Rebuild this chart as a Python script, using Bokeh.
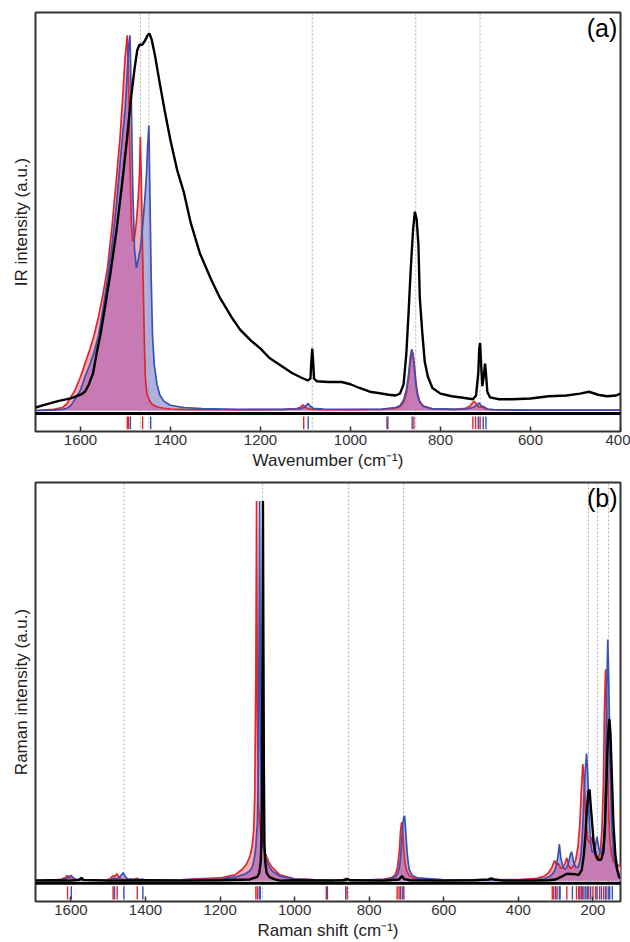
import numpy as np
from bokeh.plotting import figure
from bokeh.models import Range1d, FixedTicker, Span, Label
from bokeh.layouts import column
from bokeh.embed import file_html
from bokeh.resources import INLINE

# ---------------- Panel (a): IR ----------------
ir_calc_x = [1700, 1660, 1640, 1630, 1622, 1612, 1600, 1590, 1580, 1570,
             1560, 1550, 1540, 1530, 1520, 1512, 1506, 1501, 1496, 1493,
             1490, 1487, 1484, 1480, 1476, 1472, 1469, 1467, 1465, 1462,
             1460, 1458, 1456, 1453, 1451, 1448, 1446, 1443, 1440, 1436,
             1430, 1424, 1415, 1400, 1370, 1330, 1250, 1150, 1120, 1112,
             1106, 1102, 1097, 1094, 1090, 1083, 1060, 1000, 930, 900,
             890, 882, 876, 871, 867, 864, 861, 858, 855, 851,
             846, 838, 820, 770, 745, 735, 729, 725, 721, 717,
             714, 711, 708, 705, 701, 696, 680, 600, 400]
ir_red = [0.000, 0.003, 0.008, 0.018, 0.035, 0.055, 0.090, 0.125, 0.160, 0.200,
          0.250, 0.310, 0.380, 0.490, 0.620, 0.730, 0.840, 0.940, 1.000, 0.880,
          0.660, 0.500, 0.450, 0.460, 0.500, 0.560, 0.630, 0.730, 0.620, 0.420,
          0.300, 0.180, 0.090, 0.050, 0.040, 0.030, 0.025, 0.020, 0.016, 0.013,
          0.010, 0.008, 0.006, 0.004, 0.003, 0.002, 0.002, 0.003, 0.005, 0.008,
          0.015, 0.011, 0.006, 0.005, 0.004, 0.003, 0.002, 0.002, 0.003, 0.006,
          0.010, 0.022, 0.045, 0.085, 0.130, 0.150, 0.152, 0.120, 0.080, 0.045,
          0.024, 0.012, 0.005, 0.003, 0.006, 0.011, 0.020, 0.025, 0.018, 0.011,
          0.009, 0.009, 0.010, 0.008, 0.005, 0.003, 0.002, 0.001, 0.001]
ir_blue = [0.000, 0.001, 0.003, 0.006, 0.013, 0.030, 0.055, 0.090, 0.120, 0.155,
           0.200, 0.270, 0.350, 0.440, 0.550, 0.660, 0.740, 0.800, 0.900, 0.970,
           1.000, 0.820, 0.600, 0.430, 0.380, 0.400, 0.420, 0.430, 0.450, 0.490,
           0.520, 0.550, 0.580, 0.640, 0.700, 0.760, 0.600, 0.360, 0.200, 0.120,
           0.070, 0.042, 0.025, 0.014, 0.008, 0.005, 0.003, 0.003, 0.004, 0.005,
           0.007, 0.010, 0.015, 0.019, 0.012, 0.006, 0.004, 0.003, 0.004, 0.008,
           0.013, 0.028, 0.055, 0.095, 0.145, 0.163, 0.150, 0.110, 0.070, 0.040,
           0.022, 0.011, 0.005, 0.003, 0.004, 0.006, 0.008, 0.010, 0.013, 0.017,
           0.020, 0.015, 0.011, 0.011, 0.008, 0.004, 0.002, 0.001, 0.001]

ir_exp_x = [1700, 1680, 1650, 1620, 1600, 1590, 1582, 1572, 1563, 1556,
            1545, 1533, 1520, 1508, 1497, 1488, 1480, 1474, 1469, 1463,
            1457, 1451, 1447, 1442, 1435, 1425, 1413, 1400, 1385, 1370,
            1355, 1335, 1310, 1290, 1265, 1245, 1220, 1200, 1180, 1155,
            1130, 1110, 1095, 1089, 1087, 1085, 1083, 1081, 1075, 1050,
            1020, 1000, 980, 957, 935, 915, 900, 890, 882, 876,
            871, 866, 861, 857, 853, 849, 846, 843, 840, 835,
            828, 818, 800, 775, 750, 728, 721, 716, 714, 712,
            710, 707, 704, 701, 699, 696, 690, 670, 640, 600,
            560, 520, 490, 470, 450, 430, 410, 400]
ir_exp_y = [0.008, 0.015, 0.025, 0.033, 0.042, 0.050, 0.068, 0.100, 0.160, 0.200,
            0.280, 0.370, 0.480, 0.600, 0.720, 0.830, 0.910, 0.960, 0.975, 0.975,
            0.985, 1.000, 1.005, 0.990, 0.950, 0.880, 0.800, 0.720, 0.640, 0.580,
            0.500, 0.420, 0.350, 0.300, 0.250, 0.215, 0.185, 0.165, 0.140, 0.120,
            0.100, 0.088, 0.080, 0.085, 0.130, 0.165, 0.130, 0.085, 0.078, 0.076,
            0.076, 0.070, 0.060, 0.050, 0.046, 0.042, 0.040, 0.045, 0.070, 0.150,
            0.260, 0.380, 0.480, 0.530, 0.510, 0.440, 0.300, 0.250, 0.200, 0.130,
            0.090, 0.060, 0.045, 0.038, 0.034, 0.030, 0.040, 0.100, 0.165, 0.180,
            0.130, 0.065, 0.090, 0.125, 0.100, 0.050, 0.035, 0.030, 0.030, 0.032,
            0.038, 0.040, 0.045, 0.050, 0.042, 0.038, 0.040, 0.045]

ir_dashed = [1467, 1448, 1085, 855, 712]
ir_red_sticks = [1496, 1493, 1462, 1104, 919, 859, 728, 722, 712]
ir_blue_sticks = [1489, 1444, 1094, 917, 863, 716, 705, 699]
ir_ticks = [1600, 1400, 1200, 1000, 800, 600, 400]

# ---------------- Panel (b): Raman ----------------
ra_calc_x = [1700, 1640, 1625, 1615, 1610, 1605, 1600, 1595, 1588, 1560,
             1505, 1495, 1489, 1486, 1482, 1477, 1472, 1466, 1460, 1455,
             1448, 1430, 1423, 1416, 1409, 1402, 1300, 1200, 1160, 1140,
             1128, 1120, 1114, 1110, 1107, 1104, 1102, 1100, 1097, 1094,
             1091, 1088, 1084, 1078, 1070, 1060, 1040, 1000, 950, 900,
             870, 862, 856, 800, 760, 740, 730, 724, 719, 716,
             713, 710, 707, 705, 702, 698, 693, 685, 670, 600,
             500, 400, 350, 330, 318, 310, 303, 298, 293, 290,
             286, 280, 275, 270, 265, 260, 257, 252, 246, 240,
             235, 231, 227, 224, 220, 217, 214, 210, 206, 202,
             198, 194, 189, 185, 180, 176, 172, 169, 166, 163,
             160, 157, 154, 150, 145, 140, 133, 125]
ra_red = [0.001, 0.002, 0.004, 0.008, 0.013, 0.010, 0.005, 0.003, 0.002, 0.001,
          0.002, 0.005, 0.011, 0.013, 0.011, 0.018, 0.010, 0.005, 0.003, 0.003,
          0.003, 0.004, 0.006, 0.003, 0.002, 0.002, 0.003, 0.007, 0.015, 0.030,
          0.045, 0.065, 0.090, 0.130, 0.220, 0.550, 1.000, 0.450, 0.200, 0.160,
          0.130, 0.110, 0.090, 0.070, 0.050, 0.035, 0.015, 0.005, 0.003, 0.002,
          0.003, 0.006, 0.003, 0.002, 0.004, 0.008, 0.016, 0.035, 0.080, 0.130,
          0.154, 0.130, 0.080, 0.055, 0.035, 0.022, 0.014, 0.008, 0.005, 0.002,
          0.002, 0.003, 0.006, 0.012, 0.022, 0.035, 0.053, 0.042, 0.045, 0.040,
          0.032, 0.035, 0.045, 0.060, 0.040, 0.032, 0.033, 0.040, 0.055, 0.090,
          0.150, 0.240, 0.307, 0.270, 0.190, 0.140, 0.110, 0.100, 0.105, 0.115,
          0.090, 0.065, 0.055, 0.060, 0.080, 0.130, 0.250, 0.450, 0.557, 0.450,
          0.280, 0.160, 0.100, 0.070, 0.050, 0.045, 0.040, 0.038]
ra_blue = [0.001, 0.001, 0.002, 0.004, 0.006, 0.010, 0.014, 0.009, 0.004, 0.001,
           0.001, 0.002, 0.004, 0.006, 0.006, 0.005, 0.007, 0.013, 0.021, 0.012,
           0.005, 0.003, 0.003, 0.003, 0.004, 0.002, 0.002, 0.004, 0.009, 0.015,
           0.020, 0.026, 0.035, 0.050, 0.065, 0.090, 0.120, 0.150, 0.300, 1.000,
           0.350, 0.180, 0.100, 0.060, 0.040, 0.025, 0.012, 0.004, 0.002, 0.002,
           0.002, 0.004, 0.002, 0.002, 0.003, 0.006, 0.010, 0.018, 0.035, 0.060,
           0.100, 0.150, 0.168, 0.171, 0.130, 0.070, 0.030, 0.014, 0.007, 0.002,
           0.001, 0.002, 0.003, 0.005, 0.010, 0.016, 0.025, 0.040, 0.070, 0.096,
           0.060, 0.035, 0.030, 0.035, 0.048, 0.070, 0.076, 0.050, 0.035, 0.035,
           0.050, 0.080, 0.150, 0.220, 0.300, 0.335, 0.280, 0.170, 0.100, 0.075,
           0.075, 0.090, 0.115, 0.090, 0.070, 0.075, 0.100, 0.150, 0.280, 0.500,
           0.635, 0.500, 0.300, 0.150, 0.070, 0.040, 0.020, 0.012]

ra_exp_x = [1700, 1650, 1600, 1578, 1572, 1566, 1500, 1400, 1300, 1200,
            1120, 1100, 1095, 1091, 1089, 1087.5, 1086, 1085, 1084, 1082.5,
            1081, 1079, 1075, 1068, 1055, 1040, 1000, 900, 865, 858,
            850, 760, 720, 712, 706, 690, 600, 520, 480, 472,
            465, 440, 360, 320, 300, 287, 270, 250, 238, 230,
            224, 220, 216, 212, 209, 206, 202, 198, 193, 186,
            178, 172, 168, 164, 160, 156, 153, 149, 145, 140,
            135, 130, 125]
ra_exp_y = [0.000, 0.001, 0.000, 0.002, 0.007, 0.002, 0.000, 0.001, 0.000, 0.001,
            0.003, 0.010, 0.020, 0.050, 0.100, 0.300, 0.700, 1.000, 0.700, 0.300,
            0.100, 0.050, 0.020, 0.010, 0.004, 0.000, 0.001, 0.000, 0.001, 0.004,
            0.001, 0.000, 0.003, 0.012, 0.004, 0.001, 0.000, 0.001, 0.003, 0.006,
            0.003, 0.000, 0.000, 0.001, 0.003, 0.009, 0.018, 0.017, 0.015, 0.028,
            0.070, 0.120, 0.190, 0.235, 0.240, 0.200, 0.150, 0.100, 0.070, 0.055,
            0.055, 0.075, 0.130, 0.250, 0.370, 0.426, 0.390, 0.270, 0.150, 0.070,
            0.030, 0.010, 0.005]

ra_dashed = [1458, 1086, 855, 708, 212, 188, 158]
ra_red_sticks = [1609, 1487, 1476, 1422, 1104, 1100, 915, 859, 725, 720, 711,
                 309, 305, 296, 270, 244, 238, 231, 228, 211, 200, 193, 182, 171, 165]
ra_blue_sticks = [1599, 1483, 1458, 1407, 1095, 1092, 912, 863, 716, 707,
                  300, 290, 288, 255, 235, 224, 219, 215, 206, 189, 177, 166, 159, 155, 148]
ra_ticks = [1600, 1400, 1200, 1000, 800, 600, 400, 200]

RED = "#e3262d"
BLUE = "#3b50b2"
PINK = "#f3aeb6"
LAV = "#aeb2de"
PURPLE = "#c77ab4"
DASH = "#9c9c9c"
FONT = "Liberation Sans"


def make_panel(letter, xr, yr, ticks, ylabel, xlabel, cx, red, blue, ex, ey,
               dashed, rst, bst, sep_y, stick_y, height, top_border, bottom_border, letter_x):
    p = figure(width=630, height=height, x_range=Range1d(*xr), y_range=Range1d(*yr),
               output_backend="svg", toolbar_location=None,
               min_border_left=35, min_border_right=10,
               min_border_top=top_border, min_border_bottom=bottom_border)
    p.grid.visible = False
    p.outline_line_color = "#333333"
    p.outline_line_width = 2
    p.background_fill_color = "white"
    p.border_fill_color = "white"

    red_a = np.array(red)
    blue_a = np.array(blue)
    p.varea(x=cx, y1=0, y2=red_a, fill_color=PINK)
    p.varea(x=cx, y1=0, y2=blue_a, fill_color=LAV)
    p.varea(x=cx, y1=0, y2=np.minimum(red_a, blue_a), fill_color=PURPLE)

    n = len(dashed)
    p.segment(x0=dashed, y0=[yr[0]] * n, x1=dashed, y1=[yr[1]] * n,
              line_color=DASH, line_width=0.8, line_dash="2 2")

    p.line(cx, red, line_color=RED, line_width=1.7)
    p.line(cx, blue, line_color=BLUE, line_width=1.7)
    p.line(ex, ey, line_color="black", line_width=2.4)

    p.segment(x0=rst, y0=[stick_y[0]] * len(rst), x1=rst, y1=[stick_y[1]] * len(rst),
              line_color=RED, line_width=1.4)
    p.segment(x0=bst, y0=[stick_y[0]] * len(bst), x1=bst, y1=[stick_y[1]] * len(bst),
              line_color=BLUE, line_width=1.4)

    p.add_layout(Span(location=sep_y, dimension="width", line_color="black", line_width=3))
    p.add_layout(Label(x=letter_x, y=yr[1] - 0.004, text=letter, text_align="right",
                       text_baseline="top", text_font=FONT, text_font_size="25px",
                       text_color="black"))

    xa = p.xaxis[0]
    xa.ticker = FixedTicker(ticks=ticks)
    xa.major_tick_in = 5
    xa.major_tick_out = 0
    xa.minor_tick_line_color = None
    xa.axis_line_color = None
    xa.major_tick_line_color = "#333333"
    xa.major_tick_line_width = 1.5
    xa.major_label_text_font = FONT
    xa.major_label_text_font_size = "15px"
    xa.major_label_text_color = "#333333"
    xa.major_label_standoff = 3
    xa.axis_label = xlabel
    xa.axis_label_text_font = FONT
    xa.axis_label_text_font_style = "normal"
    xa.axis_label_text_font_size = "17px"
    xa.axis_label_text_color = "#222222"
    xa.axis_label_standoff = 3

    ya = p.yaxis[0]
    ya.ticker = FixedTicker(ticks=[])
    ya.axis_line_color = None
    ya.major_tick_line_color = None
    ya.minor_tick_line_color = None
    ya.major_label_text_font_size = "0px"
    ya.axis_label = ylabel
    ya.axis_label_text_font = FONT
    ya.axis_label_text_font_style = "normal"
    ya.axis_label_text_font_size = "17px"
    ya.axis_label_text_color = "#222222"
    ya.axis_label_standoff = 5
    return p


pa = make_panel("(a)", (1700, 400), (-0.056, 1.061), ir_ticks, "IR intensity (a.u.)",
                "Wavenumber (cm⁻¹)", ir_calc_x, ir_red, ir_blue, ir_exp_x, ir_exp_y,
                ir_dashed, ir_red_sticks, ir_blue_sticks, -0.008, (-0.016, -0.050),
                474, 12, 43, 407)
pb = make_panel("(b)", (1695, 126), (-0.055, 1.049), ra_ticks, "Raman intensity (a.u.)",
                "Raman shift (cm⁻¹)", ra_calc_x, ra_red, ra_blue, ra_exp_x, ra_exp_y,
                ra_dashed, ra_red_sticks, ra_blue_sticks, -0.007, (-0.015, -0.050),
                468, 8, 39, 134)

layout = column(pa, pb, spacing=0)
open("out.html", "w").write(file_html(layout, INLINE))
